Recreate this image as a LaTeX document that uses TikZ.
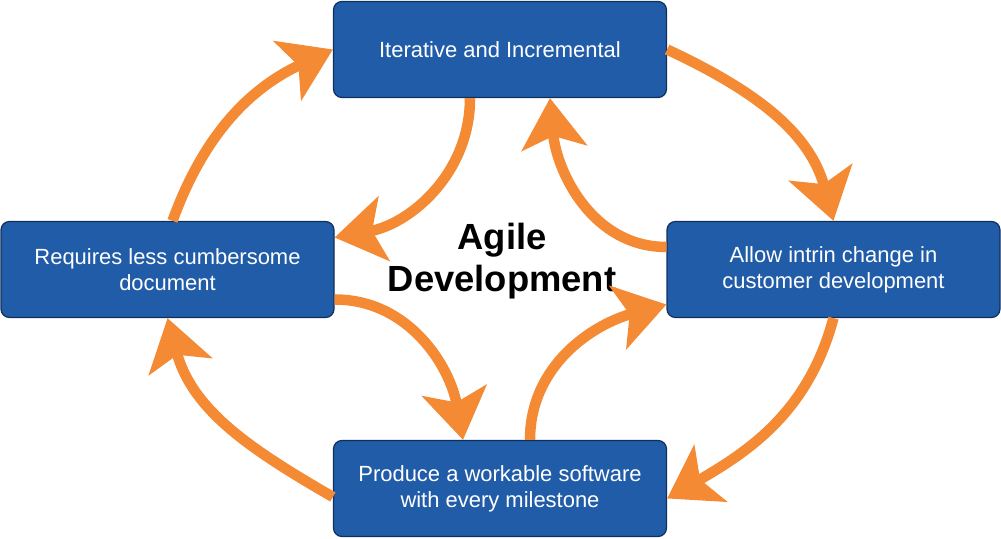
\documentclass[tikz,border=0pt]{standalone}
\usepackage{fontspec}
\setmainfont{Liberation Sans}
\usetikzlibrary{arrows.meta}
\definecolor{agileblue}{RGB}{33,92,168}
\definecolor{agileedge}{RGB}{16,48,92}
\definecolor{agileorange}{RGB}{245,138,52}

\begin{document}
\begin{tikzpicture}[
        stage/.style={draw=agileedge, line width=0.7pt, fill=agileblue, rounded corners=0.17cm,
            minimum width=6.66cm, minimum height=1.92cm, text=white, align=center,
            font=\fontsize{12.5}{14.8}\selectfont},
        flow/.style={draw=agileorange, line width=0.21cm,
            -{Stealth[length=1cm, width=1.3cm, inset=0.24cm]}}]
        \useasboundingbox (0,0) rectangle (20.02,10.78);

        \node[stage] (iter) at (10,9.79) {Iterative and Incremental};
        \node[stage] (docs) at (3.35,5.39) {Requires less cumbersome\\document};
        \node[stage] (change) at (16.67,5.39) {Allow intrin change in\\customer development};
        \node[stage] (soft) at (10,1.01) {Produce a workable software\\with every milestone};
        \node[font=\fontsize{20.7}{23.5}\selectfont\bfseries, align=center] (title) at (10.04,5.56) {Agile\\Development};

        % outer ring
        \draw[flow] (iter.east) to[out=-25, in=105] (change.north);
        \draw[flow] (change.south) to[out=-105, in=30] ([yshift=-0.2cm]soft.east);
        \draw[flow] ([yshift=-0.17cm]soft.west) to[out=150, in=-75] (docs.south);
        \draw[flow] ([xshift=0.1cm]docs.north) to[out=70, in=-155] (iter.west);

        % inner ring
        \draw[flow] ([xshift=-0.6cm]iter.south) to[out=-90, in=10] ([yshift=0.64cm]docs.east);
        \draw[flow] ([yshift=0.45cm]change.west) to[out=180, in=-85] ([xshift=1cm]iter.south);
        \draw[flow] ([yshift=-0.6cm]docs.east) to[out=0, in=100] ([xshift=-0.74cm]soft.north);
        \draw[flow] ([xshift=0.6cm]soft.north) to[out=90, in=195] ([yshift=-0.7cm]change.west);

    \end{tikzpicture}
\end{document}
